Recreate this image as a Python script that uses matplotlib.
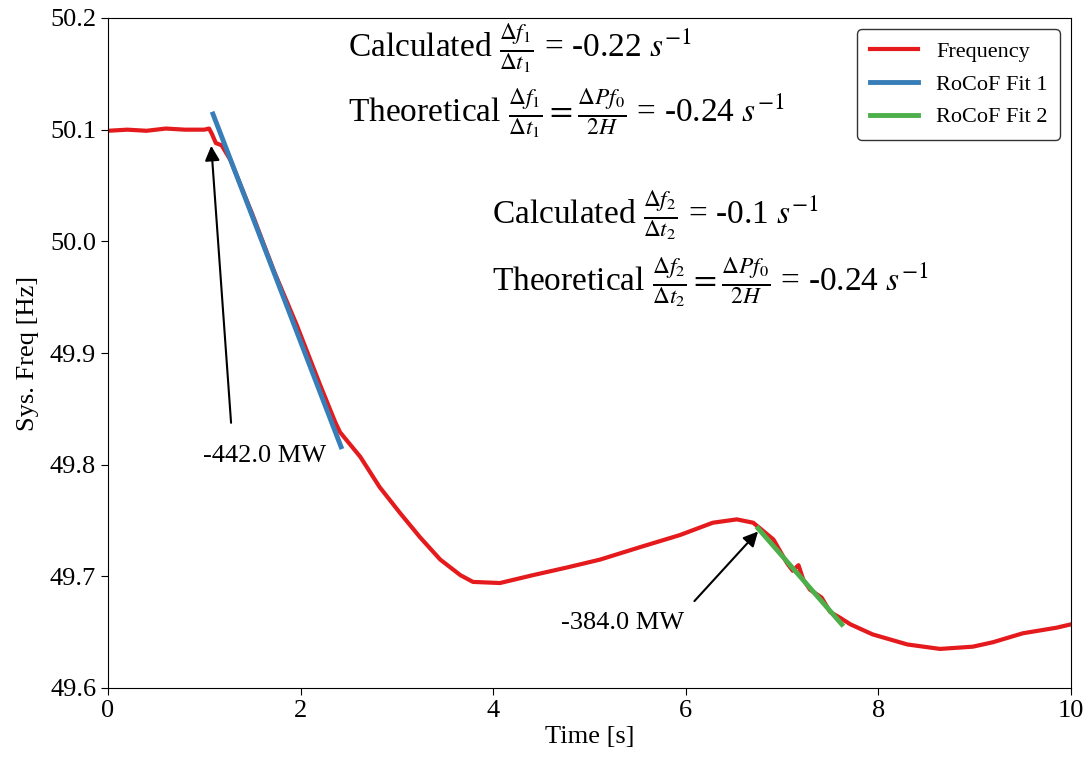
import matplotlib
matplotlib.use("Agg")
import matplotlib.pyplot as plt

plt.rcParams['font.family'] = ['Liberation Serif', 'DejaVu Serif']
plt.rcParams['mathtext.fontset'] = 'stix'

# Frequency trace (time [s], frequency [Hz])
time_s = [0.0, 0.2, 0.4, 0.6, 0.8, 1.0, 1.05, 1.08, 1.12, 1.18, 1.27, 1.5, 1.73, 1.96,
          2.2, 2.36, 2.41, 2.62, 2.82, 3.03, 3.24, 3.45, 3.66, 3.79, 4.07, 4.41, 4.77,
          5.11, 5.52, 5.94, 6.28, 6.53, 6.70, 6.77, 6.91, 7.05, 7.11, 7.17, 7.22,
          7.29, 7.41, 7.50, 7.60, 7.71, 7.94, 8.30, 8.64, 8.98, 9.19, 9.50, 9.85, 10.0]
freq_hz = [50.099, 50.100, 50.099, 50.101, 50.100, 50.100, 50.101, 50.096, 50.088, 50.086,
           50.073, 50.024, 49.972, 49.925, 49.872, 49.838, 49.829, 49.807, 49.780, 49.757,
           49.735, 49.715, 49.701, 49.695, 49.694, 49.701, 49.708, 49.715, 49.726,
           49.737, 49.748, 49.751, 49.748, 49.743, 49.733, 49.712, 49.705, 49.710,
           49.697, 49.688, 49.681, 49.668, 49.663, 49.657, 49.648, 49.639, 49.635,
           49.637, 49.641, 49.649, 49.654, 49.657]

# RoCoF fits (start/end)
fit1_t = [1.09, 2.42]
fit1_f = [50.114, 49.816]
fit2_t = [6.75, 7.62]
fit2_f = [49.743, 49.657]

x_ticks = [0, 2, 4, 6, 8, 10]
y_ticks = [49.6, 49.7, 49.8, 49.9, 50.0, 50.1, 50.2]

fig = plt.figure(figsize=(10.86, 7.6), dpi=100)
ax = fig.add_axes([108/1086, 1-688/760, (1071-108)/1086, (688-18)/760])

ax.plot(time_s, freq_hz, color='#e41a1c', lw=3, label='Frequency', zorder=2)
ax.plot(fit1_t, fit1_f, color='#377eb8', lw=3.5, label='RoCoF Fit 1', zorder=3)
ax.plot(fit2_t, fit2_f, color='#4daf4a', lw=3.5, label='RoCoF Fit 2', zorder=3)

ax.set_xlim(0, 10)
ax.set_ylim(49.6, 50.2)
ax.set_xticks(x_ticks)
ax.set_yticks(y_ticks)
ax.set_yticklabels([f"{v:.1f}" for v in y_ticks])
ax.tick_params(labelsize=19, length=5)
ax.set_xlabel('Time [s]', fontsize=19, labelpad=3)
ax.set_ylabel('Sys. Freq [Hz]', fontsize=19, labelpad=8)

arrow_kw = dict(arrowstyle='-|>', color='black', lw=1.5, mutation_scale=22)
ax.annotate('', xy=(1.07, 50.088), xytext=(1.28, 49.835), arrowprops=arrow_kw)
ax.text(1.63, 49.808, '-442.0 MW', ha='center', va='center', fontsize=19)
ax.annotate('', xy=(6.77, 49.742), xytext=(6.07, 49.676), arrowprops=arrow_kw)
ax.text(5.34, 49.658, '-384.0 MW', ha='center', va='center', fontsize=19)

fs = 24
ax.text(2.49, 50.173, r'Calculated $\frac{\Delta f_1}{\Delta t_1}$ = -0.22 $s^{-1}$',
        fontsize=fs, ha='left', va='center')
ax.text(2.49, 50.115, r'Theoretical $\frac{\Delta f_1}{\Delta t_1} = \frac{\Delta P f_0}{2H}$ = -0.24 $s^{-1}$',
        fontsize=fs, ha='left', va='center')
ax.text(3.99, 50.024, r'Calculated $\frac{\Delta f_2}{\Delta t_2}$ = -0.1 $s^{-1}$',
        fontsize=fs, ha='left', va='center')
ax.text(3.99, 49.964, r'Theoretical $\frac{\Delta f_2}{\Delta t_2} = \frac{\Delta P f_0}{2H}$ = -0.24 $s^{-1}$',
        fontsize=fs, ha='left', va='center')

leg = ax.legend(loc='upper right', fontsize=16, fancybox=True, framealpha=1,
                edgecolor='#333333', handlelength=2.2, borderaxespad=0.5,
                borderpad=0.55, labelspacing=0.55)

fig.savefig('out.png', dpi=100)
